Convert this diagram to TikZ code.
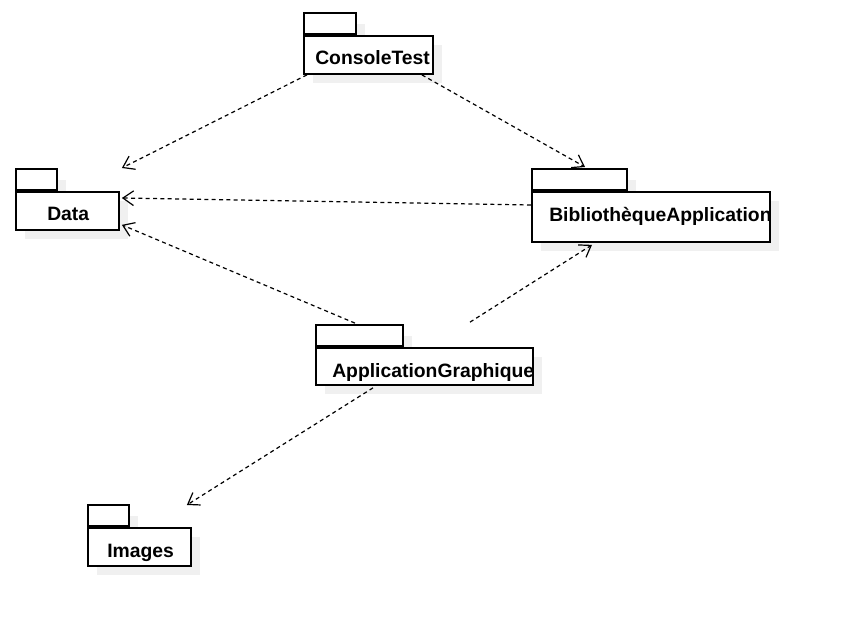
\documentclass[tikz,border=0pt]{standalone}
\usepackage{fontspec}
\setmainfont{Liberation Sans}
\usetikzlibrary{arrows.meta}
\definecolor{shadowgray}{RGB}{240,240,240}
\begin{document}
\begin{tikzpicture}[x=0.75pt,y=-0.75pt,
    pkg/.style={draw,line width=1.4pt,fill=white,inner sep=0pt},
    pkgname/.style={inner sep=0pt,anchor=base west,font=\bfseries\fontsize{14.5}{16}\selectfont},
    dep/.style={dash pattern=on 3pt off 2.5pt,line width=0.9pt,-{Straight Barb[length=8pt,width=11pt]}}]
    \useasboundingbox (0,0) rectangle (868,631);
    \foreach \n/\x/\y/\w/\h/\t/\lx/\ly/\lab in
      {ct/303/35/129/38/52/315/65/ConsoleTest,
       data/15/191/103/38/41/47/221/Data,
       bib/531/191/238/50/95/549/222/BibliothèqueApplication,
       app/315/347/217/37/87/332/377/ApplicationGraphique,
       img/87/527/103/38/41/107/557/Images}
    {
      \fill[shadowgray] (\x+10,\y-11) rectangle (\x+\t+10,\y+10);
      \fill[shadowgray] (\x+10,\y+10) rectangle (\x+\w+10,\y+\h+10);
      \node[pkg,anchor=south west,minimum width=\t*0.75pt,minimum height=21*0.75pt] (\n-tab) at (\x,\y) {};
      \node[pkg,anchor=north west,minimum width=\w*0.75pt,minimum height=\h*0.75pt] (\n) at (\x,\y) {};
      \node[pkgname] (\n-name) at (\lx,\ly) {\lab};
    }
    \draw[dep] ([shift={(4,0)}]ct.south west) -- ([shift={(2,-23)}]data.north east);
    \draw[dep] ([shift={(-12,0)}]ct.south east) -- ([shift={(54,-24)}]bib.north west);
    \draw[dep] ([shift={(0,14)}]bib.north west) -- ([shift={(2,7)}]data.north east);
    \draw[dep] ([shift={(40,-1)}]app-tab.north west) -- ([shift={(2,-6)}]data.south east);
    \draw[dep] ([shift={(155,-2)}]app-tab.north west) -- ([shift={(61,2)}]bib.south west);
    \draw[dep] ([shift={(58,2)}]app.south west) -- ([shift={(-5,-22)}]img.north east);
\end{tikzpicture}
\end{document}
